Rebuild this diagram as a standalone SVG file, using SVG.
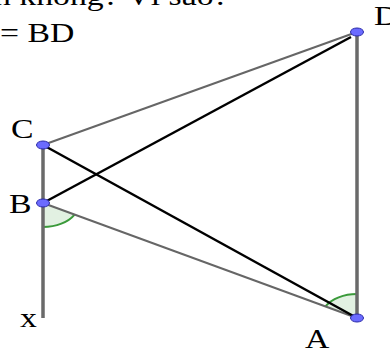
<svg xmlns="http://www.w3.org/2000/svg" width="390" height="354" viewBox="0 0 390 354">
<style>
.lbl{font-family:"Liberation Serif","Times New Roman",serif;font-size:27px;fill:#000}
.gl{stroke:#666;stroke-width:2;fill:none}
.vl{stroke:#6a6a6a;stroke-width:3.5;fill:none}
.bl{stroke:#000;stroke-width:2.5;fill:none}
.ang{fill:#cfe8cf;fill-opacity:0.6;stroke:none}
.arc{stroke:#3a9a3a;stroke-width:2;fill:none}
.pt{fill:#6b6bff;stroke:#2a2aa8;stroke-width:1}
</style>
<rect width="390" height="354" fill="#fff"/>
<g id="texts">
<text class="lbl" transform="translate(-6,5) scale(1.25,1)">n không? Vì sao?</text>
<text class="lbl" transform="translate(0,42) scale(1.25,1)">= BD</text>
</g>
<g id="angles">
<path class="ang" d="M43,203 L43,227 A36,24 0 0 0 74.6,214.6 Z"/>
<path class="arc" d="M43,227 A36,24 0 0 0 74.6,214.6"/>
<path class="ang" d="M357,318 L357,294 A36,24 0 0 0 325.4,306.4 Z"/>
<path class="arc" d="M357,294 A36,24 0 0 0 325.4,306.4"/>
</g>
<g id="connectors">
<line class="vl" x1="43" y1="145" x2="43" y2="318"/>
<line class="vl" x1="357" y1="32" x2="357" y2="318"/>
<line class="gl" x1="357" y1="32" x2="43" y2="145"/>
<line class="gl" x1="43" y1="203" x2="357" y2="318"/>
<line class="bl" x1="351" y1="37" x2="43" y2="203"/>
<line class="bl" x1="43" y1="145" x2="357" y2="318"/>
</g>
<g id="node-D"><ellipse class="pt" cx="357" cy="32" rx="6.5" ry="4"/><text class="lbl" transform="translate(374,25) scale(1.25,1)">D</text></g>
<g id="node-C"><ellipse class="pt" cx="43" cy="145" rx="6.5" ry="4"/><text class="lbl" transform="translate(11,138) scale(1.25,1)">C</text></g>
<g id="node-B"><ellipse class="pt" cx="43" cy="203" rx="6.5" ry="4"/><text class="lbl" transform="translate(9,213) scale(1.25,1)">B</text></g>
<g id="node-A"><ellipse class="pt" cx="357" cy="318" rx="6.5" ry="4"/><text class="lbl" transform="translate(305,348) scale(1.25,1)">A</text></g>
<g id="node-x"><text class="lbl" transform="translate(20,327) scale(1.25,1)">x</text></g>
</svg>
